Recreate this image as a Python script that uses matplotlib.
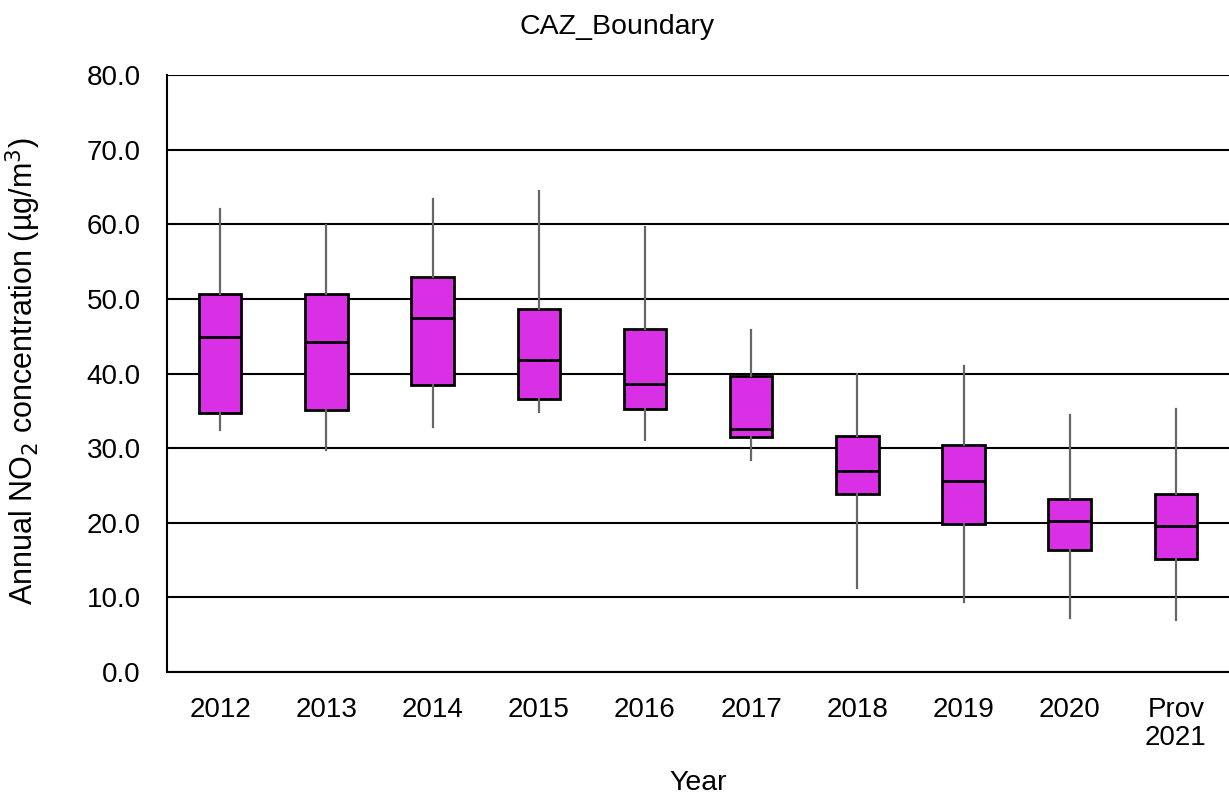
import matplotlib.pyplot as plt

plt.rcParams['font.family'] = ['Liberation Sans', 'DejaVu Sans']

# values (ug/m3)
years = ['2012', '2013', '2014', '2015', '2016', '2017', '2018', '2019', '2020', 'Prov\n2021']
whisker_low = [32.4, 29.7, 32.9, 34.8, 31.1, 28.4, 11.2, 9.4, 7.2, 7.0]
box_low = [34.7, 35.1, 38.5, 36.6, 35.2, 31.5, 23.9, 19.8, 16.3, 15.2]
medians = [44.9, 44.2, 47.5, 41.8, 38.6, 32.5, 26.9, 25.6, 20.3, 19.5]
box_high = [50.6, 50.6, 52.9, 48.7, 46.0, 39.7, 31.6, 30.4, 23.2, 23.9]
whisker_high = [62.1, 59.9, 63.4, 64.5, 59.6, 45.8, 40.0, 41.0, 34.4, 35.3]

fill_colour = '#D92FE5'

stats = []
for i in range(len(years)):
    stats.append({'whislo': whisker_low[i], 'q1': box_low[i], 'med': medians[i],
                  'q3': box_high[i], 'whishi': whisker_high[i], 'label': years[i]})

fig = plt.figure(figsize=(12.29, 7.99), dpi=100)
ax = fig.add_axes([0.136, 0.159, 0.864, 0.747])

positions = list(range(len(years)))
ax.bxp(stats, positions=positions, widths=0.4, patch_artist=True, showfliers=False,
       showcaps=False,
       boxprops={'facecolor': fill_colour, 'edgecolor': 'black', 'linewidth': 2},
       medianprops={'color': 'black', 'linewidth': 2},
       whiskerprops={'color': '#666666', 'linewidth': 1.6},
       zorder=3)

ax.set_xlim(-0.5, len(years) - 0.5)
ax.set_ylim(0, 80)
ax.set_yticks(range(0, 81, 10))
ax.set_yticklabels(['%.1f' % v for v in range(0, 81, 10)])
ax.set_xticks(positions)
ax.set_xticklabels(years, linespacing=1.12)

ax.yaxis.grid(True, color='black', linewidth=1.5, zorder=0)
ax.set_axisbelow(True)
ax.tick_params(axis='both', length=0, labelsize=20)
ax.tick_params(axis='y', pad=19)
ax.tick_params(axis='x', pad=18)

for side in ['top', 'right']:
    ax.spines[side].set_visible(False)
for side in ['left', 'bottom']:
    ax.spines[side].set_linewidth(1.5)

# axis titles placed by figure coordinates
fig.text(0.019, 0.536, 'Annual NO$_2$ concentration (µg/m$^3$)', rotation=90,
         ha='center', va='center', fontsize=22)
fig.text(0.568, 0.020, 'Year', ha='center', va='center', fontsize=20.5)
fig.text(0.502, 0.966, 'CAZ_Boundary', ha='center', va='center', fontsize=20.5)

fig.savefig('out.png', dpi=100)
